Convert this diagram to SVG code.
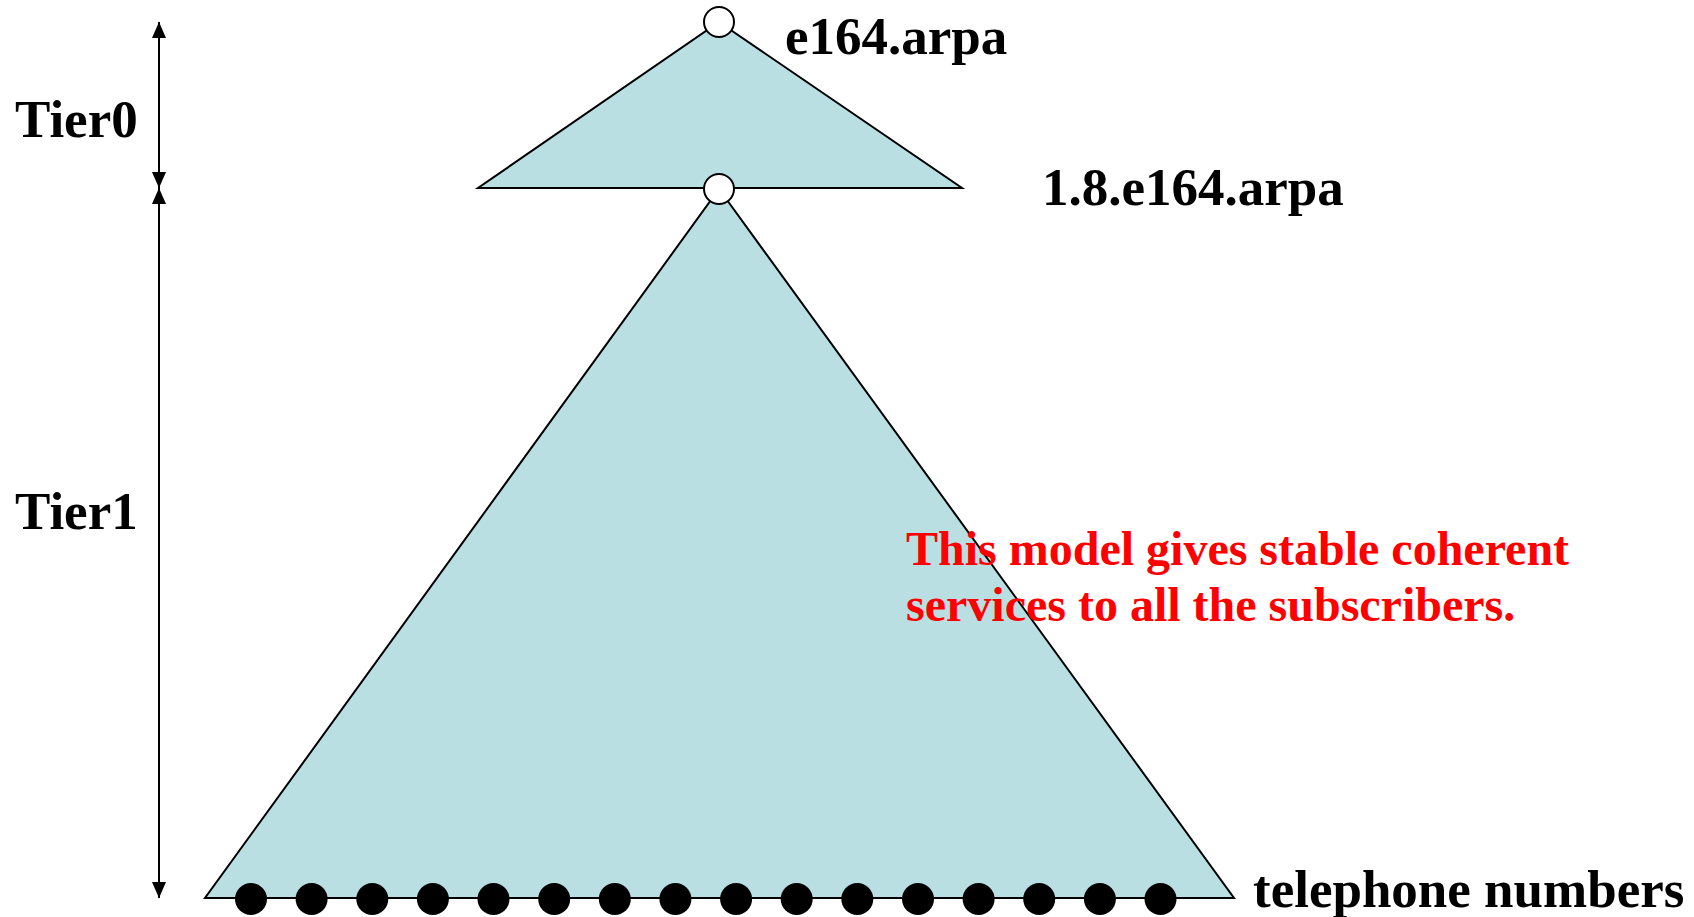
<svg xmlns="http://www.w3.org/2000/svg" width="1694" height="917" viewBox="0 0 1694 917">
<style>
.tri{fill:#B9DFE2;stroke:#000;stroke-width:2;stroke-linejoin:miter}
.lbl{font-family:"Liberation Serif","Times New Roman",serif;font-weight:bold;font-size:53px;fill:#000}
.note{font-family:"Liberation Serif","Times New Roman",serif;font-weight:bold;font-size:48px;fill:#FF0000}
.dim{stroke:#000;stroke-width:2;fill:none}
.open{fill:#fff;stroke:#000;stroke-width:2}
.dot{fill:#000}
</style>
<defs>
<marker id="ah" viewBox="0 0 16 14" refX="16" refY="7" markerWidth="16" markerHeight="14" markerUnits="userSpaceOnUse" orient="auto-start-reverse">
<path d="M0,0 L16,7 L0,14 Z" fill="#000"/>
</marker>
</defs>
<rect width="1694" height="917" fill="#fff"/>
<g id="tier1-tree">
<polygon class="tri" points="719,189 1234,898 205,898"/>
</g>
<g id="tier0-tree">
<polygon class="tri" points="719,22 962,188 478,188"/>
</g>
<g id="connectors">
<line class="dim" x1="159" y1="22" x2="159" y2="188" marker-start="url(#ah)" marker-end="url(#ah)"/>
<line class="dim" x1="159" y1="188" x2="159" y2="898" marker-start="url(#ah)" marker-end="url(#ah)"/>
</g>
<g id="node-e164">
<circle class="open" cx="719" cy="22" r="15"/>
<text class="lbl" x="785" y="54">e164.arpa</text>
</g>
<g id="node-1-8">
<circle class="open" cx="719" cy="189" r="15"/>
<text class="lbl" x="1042" y="205">1.8.e164.arpa</text>
</g>
<g id="telephone-numbers">
<circle class="dot" cx="251" cy="899" r="16"/>
<circle class="dot" cx="311.6" cy="899" r="16"/>
<circle class="dot" cx="372.3" cy="899" r="16"/>
<circle class="dot" cx="432.9" cy="899" r="16"/>
<circle class="dot" cx="493.5" cy="899" r="16"/>
<circle class="dot" cx="554.2" cy="899" r="16"/>
<circle class="dot" cx="614.8" cy="899" r="16"/>
<circle class="dot" cx="675.4" cy="899" r="16"/>
<circle class="dot" cx="736.1" cy="899" r="16"/>
<circle class="dot" cx="796.7" cy="899" r="16"/>
<circle class="dot" cx="857.3" cy="899" r="16"/>
<circle class="dot" cx="918" cy="899" r="16"/>
<circle class="dot" cx="978.6" cy="899" r="16"/>
<circle class="dot" cx="1039.2" cy="899" r="16"/>
<circle class="dot" cx="1099.9" cy="899" r="16"/>
<circle class="dot" cx="1160.5" cy="899" r="16"/>
<text class="lbl" x="1253" y="907">telephone numbers</text>
</g>
<g id="tier-labels">
<text class="lbl" x="15" y="137">Tier0</text>
<text class="lbl" x="15" y="529">Tier1</text>
</g>
<g id="note">
<text class="note" x="906" y="565">This model gives stable coherent</text>
<text class="note" x="906" y="621">services to all the subscribers.</text>
</g>
</svg>
